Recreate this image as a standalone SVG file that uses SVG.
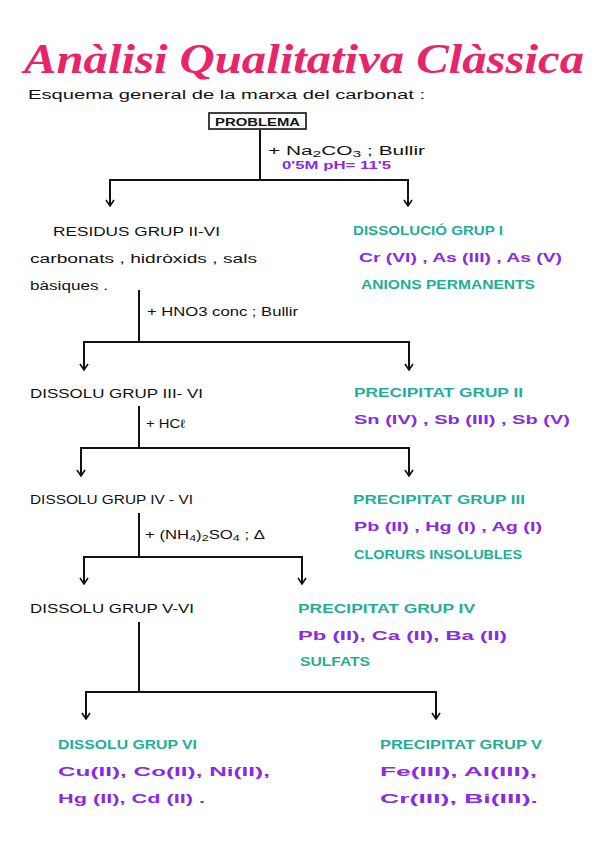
<svg xmlns="http://www.w3.org/2000/svg" width="600" height="848" viewBox="0 0 600 848">
<defs>
<marker id="ah" markerWidth="10" markerHeight="10" refX="5" refY="9" orient="0" markerUnits="userSpaceOnUse">
<path d="M1,3 L5,9 L9,3" fill="none" stroke="#111" stroke-width="1.6"/>
</marker>
<style>
.t{font-family:"Liberation Sans",Arial,sans-serif;font-size:12px}
.k{fill:#111}
.g{fill:#1fae97;font-weight:bold}
.p{fill:#8a2be2;font-weight:bold}
.ln{fill:none;stroke:#111;stroke-width:2}
.ar{fill:none;stroke:#111;stroke-width:2;marker-end:url(#ah)}
</style>
</defs>
<rect width="600" height="848" fill="#fff"/>
<text x="24" y="73" style="font-family:'Liberation Serif','Times New Roman',serif;font-style:italic;font-weight:bold;font-size:42px;fill:#e8246a" textLength="560" lengthAdjust="spacingAndGlyphs">Anàlisi Qualitativa Clàssica</text>
<text x="28" y="99" class="t k" textLength="397" lengthAdjust="spacingAndGlyphs">Esquema general de la marxa del carbonat :</text>

<g id="problema">
<rect x="209" y="113" width="97" height="16" fill="none" stroke="#111" stroke-width="1.6"/>
<text x="215" y="125.5" class="t k" font-weight="bold" style="font-size:10px" textLength="85" lengthAdjust="spacingAndGlyphs">PROBLEMA</text>
</g>
<g id="residus">
<text x="53" y="236" class="t k" textLength="167" lengthAdjust="spacingAndGlyphs">RESIDUS GRUP II-VI</text>
<text x="30" y="263" class="t k" textLength="227" lengthAdjust="spacingAndGlyphs">carbonats , hidròxids , sals</text>
<text x="30" y="290" class="t k" textLength="78" lengthAdjust="spacingAndGlyphs">bàsiques .</text>
</g>
<g id="grup1">
<text x="353" y="235" class="t g" textLength="150" lengthAdjust="spacingAndGlyphs">DISSOLUCIÓ GRUP I</text>
<text x="359" y="262" class="t p" textLength="203" lengthAdjust="spacingAndGlyphs">Cr (VI) , As (III) , As (V)</text>
<text x="361" y="289" class="t g" textLength="174" lengthAdjust="spacingAndGlyphs">ANIONS PERMANENTS</text>
</g>
<g id="dissolu3">
<text x="30" y="398" class="t k" textLength="173" lengthAdjust="spacingAndGlyphs">DISSOLU GRUP III- VI</text>
</g>
<g id="grup2">
<text x="354" y="397" class="t g" textLength="169" lengthAdjust="spacingAndGlyphs">PRECIPITAT GRUP II</text>
<text x="354" y="424" class="t p" textLength="216" lengthAdjust="spacingAndGlyphs">Sn (IV) , Sb (III) , Sb (V)</text>
</g>
<g id="dissolu4">
<text x="30" y="504" class="t k" textLength="163" lengthAdjust="spacingAndGlyphs">DISSOLU GRUP IV - VI</text>
</g>
<g id="grup3">
<text x="353" y="504" class="t g" textLength="172" lengthAdjust="spacingAndGlyphs">PRECIPITAT GRUP III</text>
<text x="354" y="531" class="t p" textLength="188" lengthAdjust="spacingAndGlyphs">Pb (II) , Hg (I) , Ag (I)</text>
<text x="354" y="559" class="t g" textLength="168" lengthAdjust="spacingAndGlyphs">CLORURS INSOLUBLES</text>
</g>
<g id="dissolu5">
<text x="30" y="613" class="t k" textLength="164" lengthAdjust="spacingAndGlyphs">DISSOLU GRUP V-VI</text>
</g>
<g id="grup4">
<text x="298" y="613" class="t g" textLength="177" lengthAdjust="spacingAndGlyphs">PRECIPITAT GRUP IV</text>
<text x="298" y="640" class="t p" textLength="209" lengthAdjust="spacingAndGlyphs">Pb (II), Ca (II), Ba (II)</text>
<text x="300" y="666" class="t g" textLength="70" lengthAdjust="spacingAndGlyphs">SULFATS</text>
</g>
<g id="grup6">
<text x="58" y="749" class="t g" textLength="139" lengthAdjust="spacingAndGlyphs">DISSOLU GRUP VI</text>
<text x="58" y="776" class="t p" textLength="212" lengthAdjust="spacingAndGlyphs">Cu(II), Co(II), Ni(II),</text>
<text x="58" y="803" class="t p" textLength="147" lengthAdjust="spacingAndGlyphs">Hg (II), Cd (II) .</text>
</g>
<g id="grup5">
<text x="380" y="749" class="t g" textLength="162" lengthAdjust="spacingAndGlyphs">PRECIPITAT GRUP V</text>
<text x="380" y="776" class="t p" textLength="157" lengthAdjust="spacingAndGlyphs">Fe(III), Al(III),</text>
<text x="380" y="803" class="t p" textLength="158" lengthAdjust="spacingAndGlyphs">Cr(III), Bi(III).</text>
</g>

<g id="connectors">
<path class="ln" d="M260,130 V180 M110,180 H408"/>
<path class="ar" d="M110,179 V206"/>
<path class="ar" d="M408,179 V206"/>
<text x="268" y="155" class="t k" textLength="157" lengthAdjust="spacingAndGlyphs">+ Na<tspan dy="2" style="font-size:9px">2</tspan><tspan dy="-2">CO</tspan><tspan dy="2" style="font-size:9px">3</tspan><tspan dy="-2"> ; Bullir</tspan></text>
<text x="282" y="169" class="t p" style="font-size:11px" textLength="109" lengthAdjust="spacingAndGlyphs">0'5M  pH= 11'5</text>

<path class="ln" d="M139,290 V342 M84,342 H409"/>
<path class="ar" d="M84,341 V370"/>
<path class="ar" d="M409,341 V370"/>
<text x="147" y="316" class="t k" textLength="151" lengthAdjust="spacingAndGlyphs">+ HNO3 conc ; Bullir</text>

<path class="ln" d="M139,406 V448 M81,448 H409"/>
<path class="ar" d="M81,447 V476"/>
<path class="ar" d="M409,447 V476"/>
<text x="146" y="428" class="t k" textLength="39" lengthAdjust="spacingAndGlyphs">+ HCℓ</text>

<path class="ln" d="M139,513 V557 M84,557 H302"/>
<path class="ar" d="M84,556 V584"/>
<path class="ar" d="M302,556 V584"/>
<text x="145" y="539" class="t k" textLength="120" lengthAdjust="spacingAndGlyphs">+ (NH<tspan dy="2" style="font-size:9px">4</tspan><tspan dy="-2">)</tspan><tspan dy="2" style="font-size:9px">2</tspan><tspan dy="-2">SO</tspan><tspan dy="2" style="font-size:9px">4</tspan><tspan dy="-2"> ; Δ</tspan></text>

<path class="ln" d="M139,622 V692 M86,692 H436"/>
<path class="ar" d="M86,691 V719"/>
<path class="ar" d="M436,691 V719"/>
</g>
</svg>
